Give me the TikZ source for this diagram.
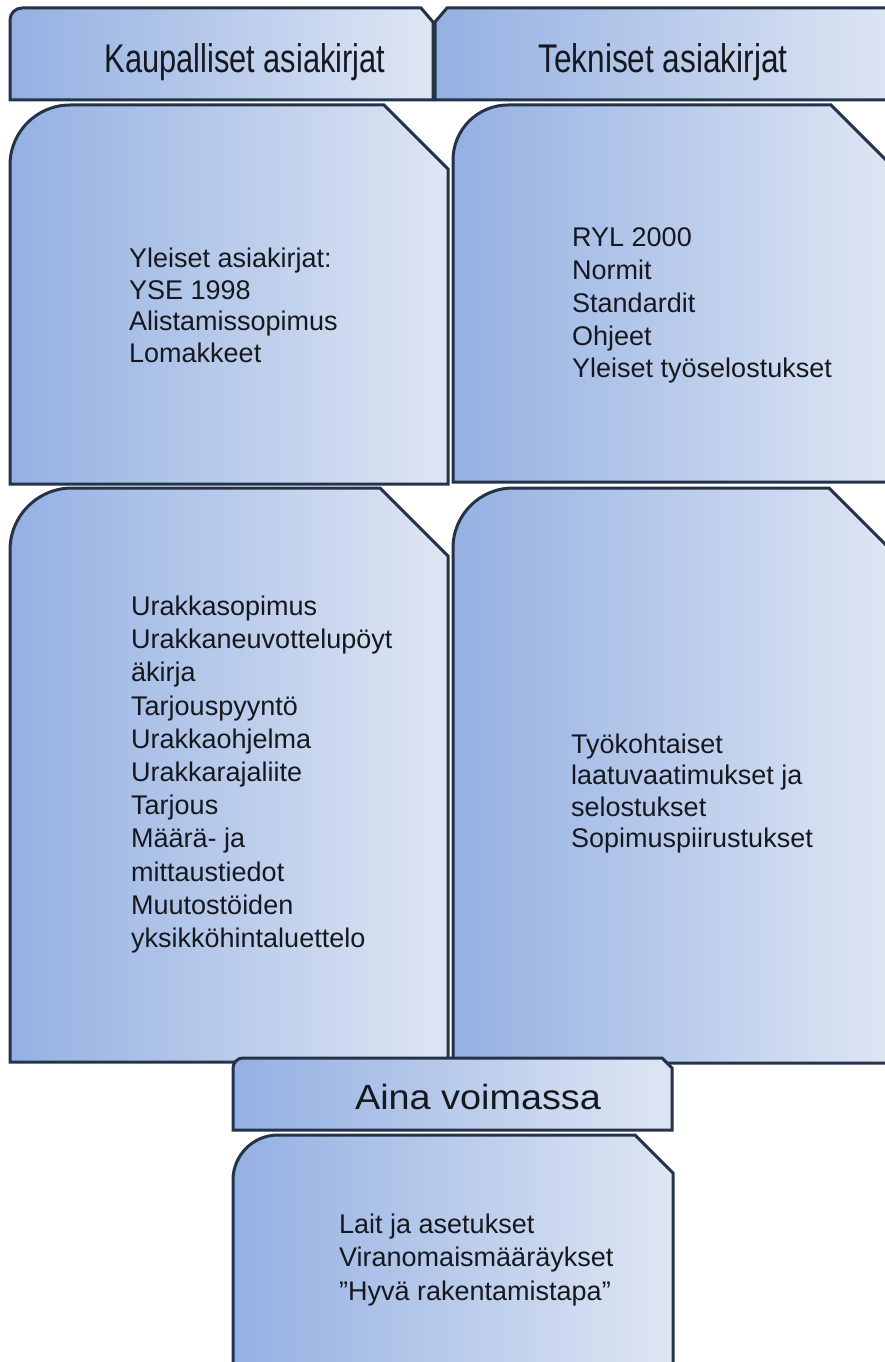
\documentclass[tikz,border=0pt]{standalone}
\usepackage{fontspec}
\setmainfont{Liberation Sans}
\definecolor{gl}{RGB}{148,176,226}
\definecolor{gr}{RGB}{222,230,243}
\definecolor{edge}{RGB}{36,50,74}
\definecolor{ink}{RGB}{22,24,32}
% #1 x-left, #2 y-top, #3 x-right, #4 y-bottom, #5 radius, #6 cut
\newcommand{\mydocbox}[6]{%
  \draw[docshape] (#1,#4) -- (#1,{#2+#5}) arc (180:270:#5) -- ({#3-#6},#2) -- (#3,{#2+#6}) -- (#3,#4) -- cycle;}
\begin{document}
\begin{tikzpicture}[x=1pt,y=-1pt,
  docshape/.style={draw=edge,line width=3pt,left color=gl,right color=gr,line join=miter},
  body/.style={anchor=north west,align=left,inner sep=0pt,text=ink},
  head/.style={inner sep=0pt,anchor=base,text=ink}]
\path[use as bounding box] (0,0) rectangle (885,1362);
\clip (0,0) rectangle (885,1362);

% header tabs
\draw[docshape] (10,100) -- (10,20) arc (180:270:12) -- (421,8) -- (433,22) -- (433,100) -- cycle;
\draw[docshape] (435,100) -- (435,22) -- (447,8) -- (900,8) -- (900,100) -- cycle;
\node[head,font=\fontsize{40}{40}\selectfont] (kaup) at (245,73) {\scalebox{0.77}[1]{Kaupalliset asiakirjat}};
\node[head,font=\fontsize{40}{40}\selectfont] (tekn) at (663,73) {\scalebox{0.79}[1]{Tekniset asiakirjat}};

% boxes
\mydocbox{10}{105}{448}{484}{60}{64}
\mydocbox{453}{105}{891}{482}{55}{60}
\mydocbox{10}{488}{448}{1062}{62}{68}
\mydocbox{453}{488}{891}{1063}{60}{62}

\node[body,font=\fontsize{27}{31.7}\selectfont] (yleiset) at (129,247.7)
  {Yleiset asiakirjat:\\YSE 1998\\Alistamissopimus\\Lomakkeet};
\node[body,font=\fontsize{27}{32.8}\selectfont] (ryl) at (572,227.7)
  {RYL 2000\\Normit\\Standardit\\Ohjeet\\Yleiset työselostukset};
\node[body,font=\fontsize{27}{33.2}\selectfont] (urakka) at (131,595.7)
  {Urakkasopimus\\Urakkaneuvottelupöyt\\äkirja\\Tarjouspyyntö\\Urakkaohjelma\\Urakkarajaliite\\Tarjous\\Määrä- ja\\mittaustiedot\\Muutostöiden\\yksikköhintaluettelo};
\node[body,font=\fontsize{27}{31.5}\selectfont] (tyokoht) at (571,733.7)
  {Työkohtaiset\\laatuvaatimukset ja\\selostukset\\Sopimuspiirustukset};

% always valid
\draw[docshape] (233,1130) -- (233,1068) arc (180:270:10) -- (662,1058) -- (672,1068) -- (672,1130) -- cycle;
\node[head,font=\fontsize{35}{35}\selectfont] (aina) at (478,1109) {\scalebox{1.08}[1]{Aina voimassa}};
\mydocbox{233}{1135}{673}{1400}{45}{38}
\node[body,font=\fontsize{27}{33.5}\selectfont] (lait) at (339,1213.7)
  {Lait ja asetukset\\Viranomaismääräykset\\”Hyvä rakentamistapa”};
\end{tikzpicture}
\end{document}
